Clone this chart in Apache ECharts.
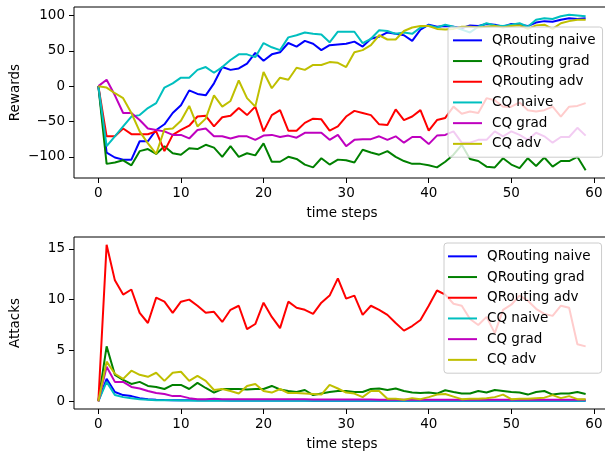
<!DOCTYPE html>
<html>
<head>
<meta charset="utf-8">
<script src="https://cdn.jsdelivr.net/npm/echarts@6/dist/echarts.min.js"></script>
<style>
html,body{margin:0;padding:0;background:#fff;overflow:hidden;}
#c{width:605px;height:452px;}
</style>
</head>
<body>
<div id="c"></div>
<script>
const names = ['QRouting naive', 'QRouting grad', 'QRouting adv', 'CQ naive', 'CQ grad', 'CQ adv'];
const colors = ['#0000ff', '#008000', '#ff0000', '#00bfbf', '#bf00bf', '#bfbf00'];
const xTicks = [0, 10, 20, 30, 40, 50, 60];
const rewardTicks = [-100, -50, 0, 50, 100];
const attackTicks = [0, 5, 10, 15];

// Rewards, time steps 0..59
const rewQRNaive = [0,-94,-101,-104,-104,-78,-78,-62,-54,-38,-27,-6,-11,-13,4,27,23,25,32,47,36,45,48,61,56,64,60,51,58,59,60,63,56,67,70,76,74,72,64,80,87,84,85,84,82,86,85,88,87,84,88,87,85,90,92,91,94,96,95,96];
const rewQRGrad = [0,-110,-108,-105,-112,-92,-89,-96,-85,-95,-97,-88,-89,-83,-87,-100,-85,-100,-95,-98,-81,-107,-107,-100,-103,-111,-115,-102,-111,-104,-105,-108,-90,-94,-97,-92,-100,-106,-110,-110,-112,-115,-107,-97,-83,-103,-106,-114,-115,-102,-111,-116,-102,-113,-101,-114,-106,-106,-100,-119];
const rewQRAdv = [0,-71,-71,-60,-68,-68,-68,-64,-92,-69,-62,-56,-43,-42,-57,-44,-42,-31,-41,-29,-64,-41,-34,-63,-63,-52,-46,-47,-63,-57,-43,-35,-38,-41,-54,-55,-33,-48,-43,-34,-63,-48,-45,-29,-39,-36,-38,-17,-20,-29,-29,-23,-34,-36,-34,-29,-43,-29,-28,-24];
const rewCQNaive = [0,-85,-71,-57,-43,-41,-31,-24,-2,4,12,12,23,27,19,27,37,45,45,41,61,55,51,69,72,76,74,73,62,77,77,77,61,67,79,78,74,76,74,83,86,83,87,84,80,76,84,89,86,85,87,89,84,94,96,95,99,101,100,99];
const rewCQGrad = [0,9,-13,-38,-38,-48,-60,-62,-64,-69,-69,-74,-62,-60,-71,-71,-74,-71,-71,-76,-70,-69,-72,-70,-73,-66,-66,-66,-76,-69,-85,-76,-75,-75,-71,-76,-71,-80,-72,-72,-82,-70,-69,-64,-80,-80,-76,-76,-64,-71,-64,-69,-76,-66,-71,-80,-72,-72,-59,-70];
const rewCQAdv = [0,-2,-10,-17,-38,-64,-81,-96,-61,-60,-49,-28,-57,-46,-13,-29,-21,8,-17,-29,20,-3,12,9,26,23,30,30,34,33,27,48,51,58,72,66,66,78,83,85,85,81,80,81,84,84,83,84,85,83,85,86,81,86,87,81,89,92,94,94];

// Attacks, time steps 0..59
const attQRNaive = [0,2.2,0.9,0.6,0.5,0.3,0.2,0.15,0.12,0.1,0.1,0.1,0.08,0.08,0.08,0.08,0.07,0.07,0.07,0.07,0.06,0.06,0.06,0.06,0.06,0.06,0.05,0.05,0.05,0.05,0.05,0.05,0.05,0.05,0.05,0.05,0.05,0.05,0.05,0.05,0.05,0.05,0.05,0.05,0.05,0.05,0.05,0.05,0.05,0.05,0.05,0.05,0.05,0.05,0.05,0.05,0.05,0.05,0.05,0.05];
const attQRGrad = [0,5.4,2.6,2.1,1.7,1.9,1.5,1.4,1.2,1.6,1.6,1.2,1.8,1.3,0.85,1.2,1.2,1.2,1.15,1.2,1.2,1.5,1.15,1.0,0.9,1.1,0.6,0.75,0.9,1.0,1.0,0.9,0.9,1.2,1.25,1.1,1.25,1.0,0.85,0.8,0.85,0.75,1.08,0.9,0.75,0.75,1.0,0.85,1.1,1.0,0.9,0.85,0.65,0.9,1.0,0.65,0.75,0.75,0.9,0.7];
const attQRAdv = [0,15.4,11.9,10.5,11.0,8.7,7.7,10.2,9.8,8.7,9.8,10.0,9.4,8.7,8.8,7.8,9.0,9.4,7.1,7.6,9.7,8.3,7.2,9.8,9.2,9.0,8.6,9.7,10.4,12.1,10.1,10.4,8.5,9.4,9.0,8.5,7.7,6.95,7.4,8.0,9.4,10.9,10.5,9.6,9.4,8.1,7.5,8.3,6.7,9.0,9.5,10.4,9.9,9.1,8.6,8.4,9.4,9.2,5.6,5.4];
const attCQNaive = [0,1.9,0.6,0.4,0.3,0.2,0.15,0.1,0.1,0.08,0.07,0.06,0.05,0.05,0.05,0.05,0.04,0.04,0.04,0.04,0.04,0.04,0.04,0.04,0.04,0.04,0.04,0.04,0.04,0.04,0.04,0.04,0.04,0.04,0.04,0.04,0.04,0.04,0.04,0.04,0.04,0.04,0.04,0.04,0.04,0.04,0.04,0.04,0.04,0.04,0.04,0.04,0.04,0.04,0.04,0.04,0.04,0.04,0.04,0.04];
const attCQGrad = [0,3.4,1.9,1.9,1.4,1.25,1.0,0.8,0.7,0.5,0.5,0.3,0.2,0.2,0.25,0.2,0.2,0.2,0.2,0.2,0.2,0.18,0.18,0.18,0.18,0.18,0.17,0.17,0.17,0.17,0.16,0.16,0.16,0.16,0.15,0.15,0.15,0.15,0.15,0.15,0.15,0.15,0.15,0.15,0.15,0.15,0.15,0.15,0.15,0.15,0.15,0.15,0.15,0.15,0.15,0.15,0.15,0.15,0.15,0.15];
const attCQAdv = [0,3.9,2.7,2.2,3.0,2.6,2.4,2.8,2.0,2.8,2.9,2.0,2.5,2.0,1.1,1.2,1.0,0.75,1.5,1.7,1.0,0.85,1.2,0.8,0.8,0.75,0.7,0.65,1.6,1.25,0.85,0.75,0.4,1.0,1.0,0.25,0.25,0.15,0.3,0.2,0.4,0.65,0.7,0.45,0.2,0.25,0.25,0.3,0.4,0.65,0.2,0.25,0.25,0.3,0.35,0.6,0.3,0.5,0.2,0.2];

const rewards = [rewQRNaive, rewQRGrad, rewQRAdv, rewCQNaive, rewCQGrad, rewCQAdv];
const attacks = [attQRNaive, attQRGrad, attQRAdv, attCQNaive, attCQGrad, attCQAdv];

const FONT = 'DejaVu Sans';
const FS = 13.5;
const fmtMinus = v => String(v).replace('-', '\u2212');

function mkSeries(arrs, idx) {
  return arrs.map((a, i) => ({
    name: names[i],
    type: 'line',
    xAxisIndex: idx,
    yAxisIndex: idx,
    data: a.map((v, t) => [t, v]),
    showSymbol: false,
    symbol: 'none',
    lineStyle: { color: colors[i], width: 2 },
    itemStyle: { color: colors[i] },
    z: 2,
    animation: false
  }));
}

function mkX(idx) {
  return {
    type: 'value', gridIndex: idx, min: -2.95, max: 61.95,
    name: 'time steps', nameLocation: 'middle', nameGap: 28, nameMoveOverlap: false,
    nameTextStyle: { fontFamily: FONT, fontSize: FS, color: '#000' },
    axisLine: { show: false, onZero: false },
    axisTick: { show: true, inside: false, length: 5, lineStyle: { color: '#000', width: 1 }, customValues: xTicks },
    axisLabel: { show: true, margin: 8, fontFamily: FONT, fontSize: FS, color: '#000', customValues: xTicks },
    splitLine: { show: false }
  };
}

function mkY(idx, min, max, ticks, name) {
  return {
    type: 'value', gridIndex: idx, min: min, max: max,
    name: name, nameLocation: 'middle', nameGap: 52, nameRotate: 90, nameMoveOverlap: false,
    nameTextStyle: { fontFamily: FONT, fontSize: FS, color: '#000' },
    axisLine: { show: false, onZero: false },
    axisTick: { show: true, inside: false, length: 5, lineStyle: { color: '#000', width: 1 }, customValues: ticks },
    axisLabel: { show: true, margin: 9, fontFamily: FONT, fontSize: FS, color: '#000', customValues: ticks, formatter: fmtMinus },
    splitLine: { show: false }
  };
}

function mkLegend(left, top, padLeft, padRight) {
  return {
    left: left, top: top, orient: 'vertical',
    data: names,
    z: 20,
    icon: 'rect', itemWidth: 29, itemHeight: 2, itemGap: 0,
    padding: [3, padRight, 3, padLeft],
    backgroundColor: 'rgba(255,255,255,0.8)',
    borderColor: '#cccccc', borderWidth: 1, borderRadius: 3,
    selectedMode: false,
    textStyle: { fontFamily: FONT, fontSize: FS, color: '#000', lineHeight: 20.7, padding: [0, 0, 0, 5] }
  };
}

const chart = echarts.init(document.getElementById('c'), null, { renderer: 'canvas' });
chart.setOption({
  animation: false,
  backgroundColor: '#ffffff',
  grid: [
    { left: 74, top: 7, width: 536, height: 171, show: true, borderColor: '#000', borderWidth: 1, backgroundColor: 'transparent', containLabel: false, outerBoundsMode: 'none' },
    { left: 74, top: 237, width: 536, height: 172, show: true, borderColor: '#000', borderWidth: 1, backgroundColor: 'transparent', containLabel: false, outerBoundsMode: 'none' }
  ],
  xAxis: [mkX(0), mkX(1)],
  yAxis: [mkY(0, -130, 112, rewardTicks, 'Rewards'), mkY(1, -0.77, 16.17, attackTicks, 'Attacks')],
  legend: [mkLegend(448, 27, 5, 7), mkLegend(444, 243, 4, 11)],
  series: mkSeries(rewards, 0).concat(mkSeries(attacks, 1))
});
</script>
</body>
</html>
